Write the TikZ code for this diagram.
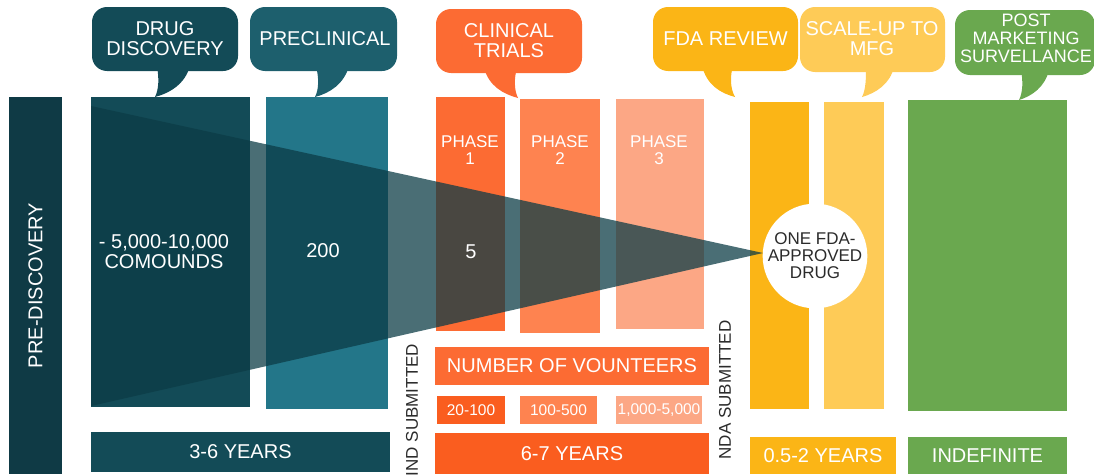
\documentclass[tikz,border=0pt]{standalone}
\usepackage{fontspec}
\setmainfont{Liberation Sans}
\definecolor{pre}{HTML}{0F3A45}
\definecolor{dd}{HTML}{134B57}
\definecolor{pcb}{HTML}{1D5F6D}
\definecolor{pc}{HTML}{237689}
\definecolor{ph1}{HTML}{FC6B33}
\definecolor{ph2}{HTML}{FE8350}
\definecolor{ph3}{HTML}{FCA785}
\definecolor{deep}{HTML}{FA5D1F}
\definecolor{fda}{HTML}{FBB516}
\definecolor{mfg}{HTML}{FECB57}
\definecolor{post}{HTML}{6AA84F}
\definecolor{funnel}{HTML}{0C3C46}
\definecolor{ink}{HTML}{2B2B2B}
\begin{document}
\begin{tikzpicture}[x=1pt,y=-1pt,
  panel/.style={anchor=north west, inner sep=0pt, outer sep=0pt, draw=none},
  bubble/.style={rounded corners=15pt, inner sep=0pt, outer sep=0pt, draw=none},
  lbl/.style={text=white, align=center, inner sep=0pt, font=\fontsize{20}{20}\selectfont},
  small/.style={lbl, font=\fontsize{17}{17}\selectfont},
  tiny/.style={lbl, font=\fontsize{15.5}{15.5}\selectfont},
  vert/.style={text=ink, rotate=90, inner sep=0pt, font=\fontsize{17}{17}\selectfont}]
\useasboundingbox (0,0) rectangle (1094,474);
\clip (0,0) rectangle (1094,474);

% stage columns
\node[panel, fill=pre,  minimum width=53pt,  minimum height=377pt] (precol) at (9,97) {};
\node[panel, fill=dd,   minimum width=159pt, minimum height=310pt] (ddcol) at (91,97) {};
\node[panel, fill=pc,   minimum width=122pt, minimum height=312pt] (pccol) at (266,97) {};
\node[panel, fill=ph1,  minimum width=69pt,  minimum height=234pt] (p1col) at (436,97) {};
\node[panel, fill=ph2,  minimum width=80pt,  minimum height=234pt] (p2col) at (520,99) {};
\node[panel, fill=ph3,  minimum width=88pt,  minimum height=230pt] (p3col) at (616,99) {};
\node[panel, fill=fda,  minimum width=59pt,  minimum height=307pt] (fdacol) at (750,102) {};
\node[panel, fill=mfg,  minimum width=60pt,  minimum height=307pt] (mfgcol) at (824,102) {};
\node[panel, fill=post, minimum width=159pt, minimum height=311pt] (postcol) at (908,100) {};

% volunteer counts and durations
\node[panel, fill=ph1,  minimum width=274pt, minimum height=38pt] (vol) at (435,347) {};
\node[panel, fill=deep, minimum width=68pt,  minimum height=28pt] (v1) at (437,396) {};
\node[panel, fill=ph2,  minimum width=77pt,  minimum height=28pt] (v2) at (520,396) {};
\node[panel, fill=ph3,  minimum width=86pt,  minimum height=28pt] (v3) at (616,396) {};
\node[panel, fill=dd,   minimum width=299pt, minimum height=40pt] (y1) at (91,432) {};
\node[panel, fill=deep, minimum width=274pt, minimum height=41pt] (y2) at (435,433) {};
\node[panel, fill=fda,  minimum width=146pt, minimum height=37pt] (y3) at (750,437) {};
\node[panel, fill=post, minimum width=159pt, minimum height=37pt] (y4) at (908,437) {};

% callout bubbles
\node[bubble, fill=dd,  minimum width=146pt, minimum height=64pt] (bdd) at (165,39) {};
\fill[dd] (157,66) -- (190,66) .. controls (185,84) and (170,93) .. (155,97)
  .. controls (159,89) and (159,78) .. cycle;
\node[bubble, fill=pcb, minimum width=147pt, minimum height=64pt] (bpc) at (323.5,39) {};
\fill[pcb] (316,66) -- (349,66) .. controls (344,84) and (330,93) .. (315,97)
  .. controls (319,89) and (319,78) .. cycle;
\node[bubble, fill=ph1, minimum width=146pt, minimum height=64pt] (bct) at (509,41) {};
\fill[ph1] (484,68) -- (517,68) .. controls (514,78) and (514,90) .. (518,98)
  .. controls (503,94) and (489,86) .. cycle;
\node[bubble, fill=fda, minimum width=145pt, minimum height=64pt] (bfda) at (725.5,39) {};
\fill[fda] (702,66) -- (733,66) .. controls (730,76) and (730,88) .. (735,97)
  .. controls (720,93) and (707,85) .. cycle;
\node[bubble, fill=mfg, minimum width=145pt, minimum height=65pt] (bmfg) at (872.5,39.5) {};
\fill[mfg] (866,67) -- (894,67) .. controls (890,84) and (876,93) .. (862,97)
  .. controls (866,89) and (866,78) .. cycle;
\node[bubble, fill=post, minimum width=140pt, minimum height=65pt] (bpost) at (1025,42.5) {};
\fill[post] (1021,70) -- (1049,70) .. controls (1045,87) and (1032,96) .. (1019,100)
  .. controls (1023,92) and (1023,81) .. cycle;

\node[lbl] (tdd) at (bdd) {DRUG\\DISCOVERY};
\node[lbl] (tpc) at (325,39) {PRECLINICAL};
\node[lbl] (tct) at (bct) {CLINICAL\\TRIALS};
\node[lbl] (tfda) at (bfda) {FDA REVIEW};
\node[lbl] (tmfg) at (872,38.5) {SCALE-UP TO\\MFG};
\node[lbl, font=\fontsize{18}{18}\selectfont] (tpost) at (1026,38) {POST\\MARKETING\\SURVELLANCE};

% funnel from thousands of compounds down to one drug
\fill[funnel, opacity=0.745] (91,106) -- (763,253) -- (91,406) -- cycle;

% column texts
\node[lbl, rotate=90] (tpre) at (precol.center) {PRE-DISCOVERY};
\node[lbl] (tcomp) at (164,252) {- 5,000-10,000\\COMOUNDS};
\node[lbl] (t200) at (323,251) {200};
\node[lbl] (t5) at (471,252) {5};
\node[small] (tp1) at (470,150) {PHASE\\1};
\node[small] (tp2) at (560,150) {PHASE\\2};
\node[small] (tp3) at (659,150) {PHASE\\3};
\node[lbl] (tvol) at (vol.center) {NUMBER OF VOUNTEERS};
\node[tiny] (tv1) at (v1.center) {20-100};
\node[tiny] (tv2) at (v2.center) {100-500};
\node[tiny] (tv3) at (v3.center) {1,000-5,000};
\node[lbl] (ty1) at (y1.center) {3-6 YEARS};
\node[lbl] (ty2) at (y2.center) {6-7 YEARS};
\node[lbl] (ty3) at (y3.center) {0.5-2 YEARS};
\node[lbl] (ty4) at (y4.center) {INDEFINITE};
\node[vert] (ind) at (412,410) {IND SUBMITTED};
\node[vert] (nda) at (725,390) {NDA SUBMITTED};

% approved drug
\node[circle, fill=white, minimum size=104pt, inner sep=0pt, text=ink, align=center,
  font=\fontsize{17}{17}\selectfont] (drug) at (815,256) {ONE FDA-\\APPROVED\\DRUG};
\end{tikzpicture}
\end{document}
